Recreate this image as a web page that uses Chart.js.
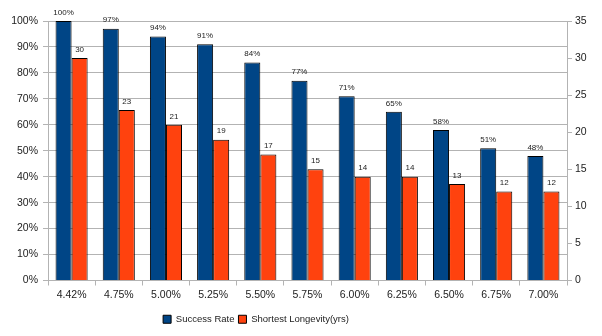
<!DOCTYPE html>
<html>
<head>
<meta charset="utf-8">
<script src="https://cdn.jsdelivr.net/npm/chart.js@4/dist/chart.umd.min.js"></script>
<style>
html,body{margin:0;padding:0;background:#fff;}
#wrap{width:602px;height:336px;position:relative;}
</style>
</head>
<body>
<div id="wrap"><canvas id="c" width="602" height="336"></canvas></div>
<script>
const categories = ["4.42%","4.75%","5.00%","5.25%","5.50%","5.75%","6.00%","6.25%","6.50%","6.75%","7.00%"];
const successRate = [100,97,94,91,84,77,71,65,58,51,48];
const shortestLongevity = [30,23,21,19,17,15,14,14,13,12,12];
const seriesNames = ["Success Rate","Shortest Longevity(yrs)"];

const FONT = "'Liberation Sans Narrow','Arial Narrow','Liberation Sans',Arial,sans-serif";
const GRID = "#b3b3b3";

const valueLabels = {
  id: 'valueLabels',
  afterDatasetsDraw(chart) {
    const ctx = chart.ctx;
    ctx.save();
    ctx.font = "8px " + FONT;
    ctx.fillStyle = "#222";
    ctx.textAlign = "center";
    ctx.textBaseline = "middle";
    chart.data.datasets.forEach((ds, di) => {
      const meta = chart.getDatasetMeta(di);
      meta.data.forEach((el, i) => {
        const v = ds.data[i];
        const txt = di === 0 ? v + "%" : String(v);
        ctx.fillText(txt, el.x, el.y - 8.5);
      });
    });
    ctx.restore();
  }
};

const legendShift = {
  id: 'legendShift',
  beforeDraw(chart) {
    if (chart.legend) {
      chart.legend.left = 0;
      chart.legend.right = 512;
    }
  }
};

new Chart(document.getElementById('c'), {
  type: 'bar',
  data: {
    labels: categories,
    datasets: [
      { label: seriesNames[0], data: successRate, yAxisID: 'y',
        backgroundColor: '#004586', borderColor: '#000', borderWidth: 1 },
      { label: seriesNames[1], data: shortestLongevity, yAxisID: 'y1',
        backgroundColor: '#ff420e', borderColor: '#000', borderWidth: 1 }
    ]
  },
  options: {
    responsive: false,
    animation: false,
    devicePixelRatio: 1,
    layout: { padding: { top: 21, left: 0, right: 0, bottom: 2 } },
    datasets: { bar: { categoryPercentage: 0.68, barPercentage: 1.0 } },
    plugins: {
      tooltip: { enabled: false },
      legend: {
        position: 'bottom',
        labels: {
          boxWidth: 8, boxHeight: 8, padding: 4,
          color: '#222',
          font: { family: FONT, size: 9.5 }
        }
      }
    },
    scales: {
      x: {
        offset: true,
        grid: { offset: true, drawOnChartArea: false, drawTicks: true, tickLength: 5, color: GRID },
        border: { color: GRID },
        ticks: { color: '#222', padding: 3, font: { family: FONT, size: 10.5 }, maxRotation: 0, autoSkip: false },
        afterFit(s) { s.height = 30; }
      },
      y: {
        position: 'left',
        min: 0, max: 100,
        ticks: { stepSize: 10, color: '#222', padding: 5, font: { family: FONT, size: 10.5 },
                 callback: v => v + '%' },
        grid: { color: GRID, tickLength: 5 },
        border: { color: GRID },
        afterFit(s) { s.width = 48; }
      },
      y1: {
        position: 'right',
        min: 0, max: 35,
        ticks: { stepSize: 5, color: '#222', padding: 3, font: { family: FONT, size: 10.5 } },
        grid: { drawOnChartArea: false, color: GRID, tickLength: 5 },
        border: { color: GRID },
        afterFit(s) { s.width = 35; }
      }
    }
  },
  plugins: [valueLabels, legendShift]
});
</script>
</body>
</html>
